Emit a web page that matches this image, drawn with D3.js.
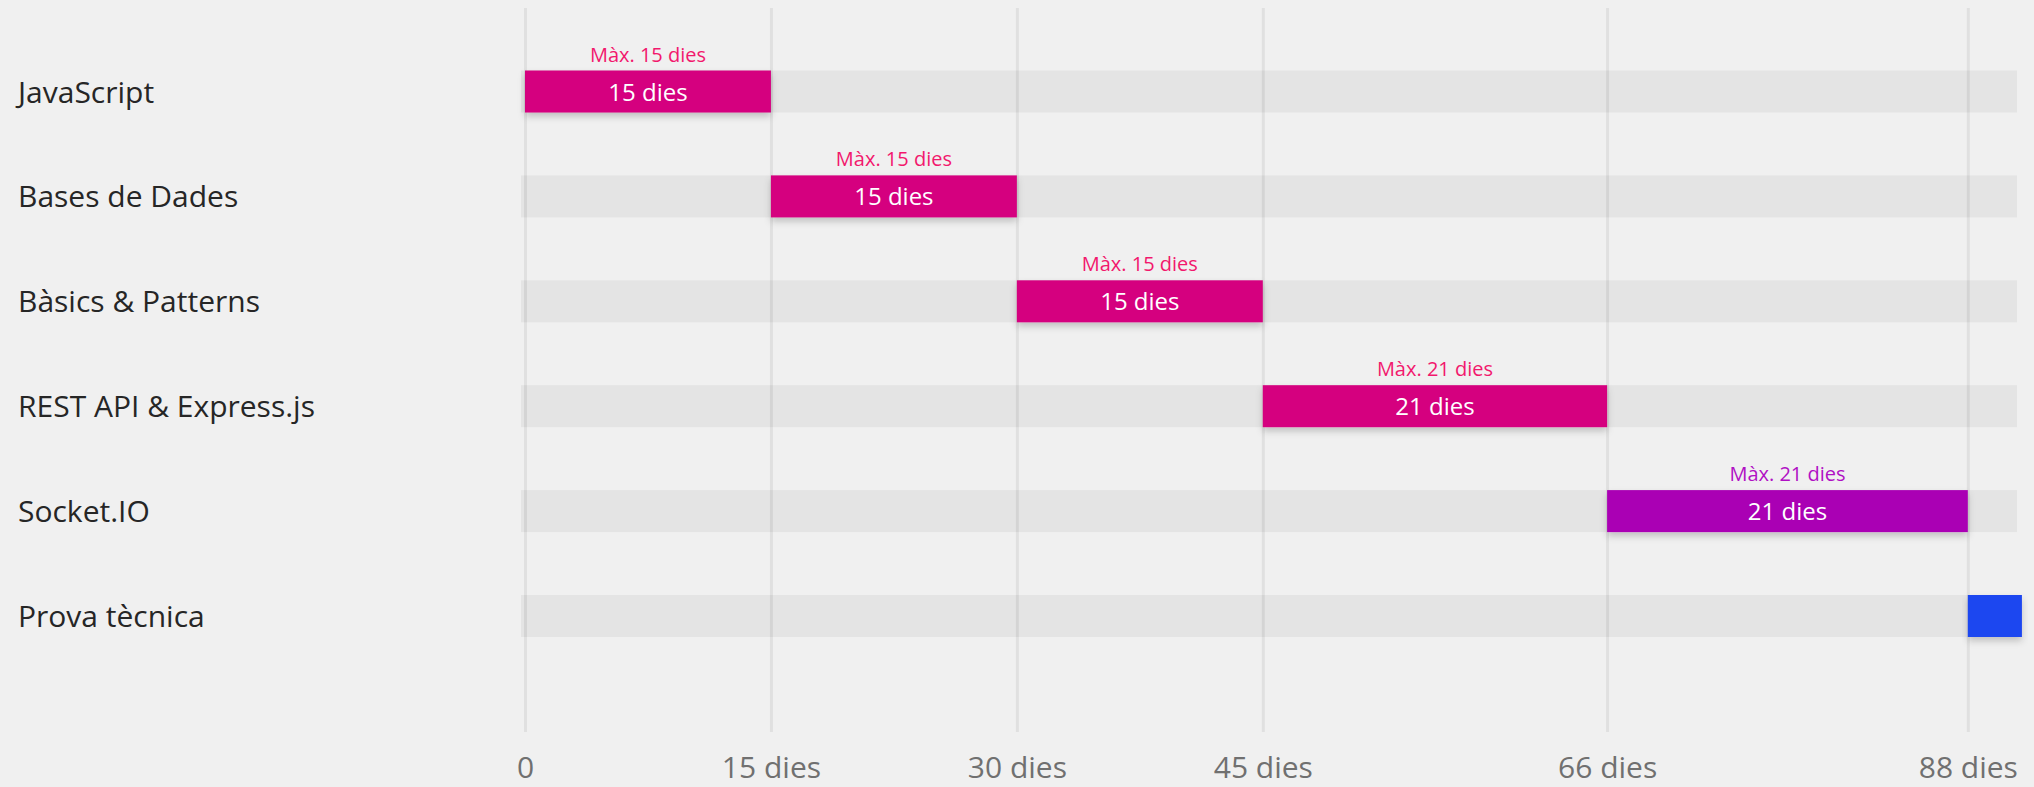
<!DOCTYPE html>
<html>
<head>
<meta charset="utf-8">
<script src="https://cdn.jsdelivr.net/npm/d3@7"></script>
<style>
  html, body { margin: 0; padding: 0; background: #f0f0f0; }
  svg { display: block; }
</style>
</head>
<body>
<div id="chart"></div>
<script>
// ---- data ----
const categories = ["JavaScript", "Bases de Dades", "Bàsics & Patterns", "REST API & Express.js", "Socket.IO", "Prova tècnica"];
const startDays  = [0, 15, 30, 45, 66, 88];
const endDays    = [15, 30, 45, 66, 88, 91.3];
const durationLabels = ["15 dies", "15 dies", "15 dies", "21 dies", "21 dies", ""];
const maxLabels  = ["Màx. 15 dies", "Màx. 15 dies", "Màx. 15 dies", "Màx. 21 dies", "Màx. 21 dies", ""];
const barKinds   = ["pink", "pink", "pink", "pink", "purple", "blue"];
const tickValues = [0, 15, 30, 45, 66, 88];
const tickLabels = ["0", "15 dies", "30 dies", "45 dies", "66 dies", "88 dies"];
const domainMax  = 91;

// ---- styles ----
const W = 2034, H = 787;
const barFill   = { pink: "#d5007f", purple: "#aa00b4", blue: "#1e46f0" };
const maxFill   = { pink: "#f2186d", purple: "#b010c4", blue: "#1e46f0" };
const font = "'Open Sans', 'Noto Sans', sans-serif";

const svg = d3.select("#chart").append("svg")
  .attr("width", W).attr("height", H)
  .style("background", "#f0f0f0");

const defs = svg.append("defs");
const f = defs.append("filter").attr("id", "shadow")
  .attr("x", "-10%").attr("y", "-30%").attr("width", "120%").attr("height", "180%");
f.append("feDropShadow").attr("dx", 0).attr("dy", 4).attr("stdDeviation", 3.5)
  .attr("flood-color", "#000").attr("flood-opacity", 0.2);

const x = d3.scaleLinear().domain([0, domainMax]).range([525, 2017]);
const y = d3.scalePoint().domain(categories).range([91.5, 616]);
const barH = 42;

const rows = categories.map((c, i) => ({
  cat: c, start: startDays[i], end: endDays[i],
  label: durationLabels[i], max: maxLabels[i], kind: barKinds[i]
}));

// background tracks
svg.append("g").selectAll("rect").data(rows).join("rect")
  .attr("x", x(0) - 4)
  .attr("y", d => y(d.cat) - barH / 2)
  .attr("width", x(domainMax) - x(0) + 4)
  .attr("height", barH)
  .attr("fill", "#e4e4e4");

// grid lines via axis
const gridG = svg.append("g").attr("transform", "translate(0,732)")
  .call(d3.axisTop(x).tickValues(tickValues).tickSize(724).tickFormat(""));
gridG.select(".domain").remove();
gridG.selectAll(".tick line")
  .attr("stroke", "rgba(0,0,0,0.065)").attr("stroke-width", 3);

// axis labels
const axisG = svg.append("g").attr("transform", "translate(0,778)")
  .call(d3.axisBottom(x).tickValues(tickValues).tickSize(0)
    .tickFormat((d, i) => tickLabels[i]));
axisG.select(".domain").remove();
axisG.selectAll(".tick text")
  .attr("y", 0).attr("dy", 0)
  .attr("font-family", font).attr("font-size", 30)
  .attr("fill", "#707070");

// bars
svg.append("g").selectAll("rect").data(rows).join("rect")
  .attr("x", d => x(d.start))
  .attr("y", d => y(d.cat) - barH / 2)
  .attr("width", d => x(d.end) - x(d.start))
  .attr("height", barH)
  .attr("fill", d => barFill[d.kind])
  .attr("filter", "url(#shadow)");

// bar labels
svg.append("g").selectAll("text").data(rows.filter(d => d.label)).join("text")
  .attr("x", d => (x(d.start) + x(d.end)) / 2)
  .attr("y", d => y(d.cat) + 9)
  .attr("text-anchor", "middle")
  .attr("font-family", font).attr("font-size", 24)
  .attr("fill", "#ffffff")
  .text(d => d.label);

// max labels
svg.append("g").selectAll("text").data(rows.filter(d => d.max)).join("text")
  .attr("x", d => (x(d.start) + x(d.end)) / 2)
  .attr("y", d => y(d.cat) - barH / 2 - 9)
  .attr("text-anchor", "middle")
  .attr("font-family", font).attr("font-size", 20)
  .attr("fill", d => maxFill[d.kind])
  .text(d => d.max);

// category labels
svg.append("g").selectAll("text").data(rows).join("text")
  .attr("x", 18)
  .attr("y", d => y(d.cat) + 11)
  .attr("font-family", font).attr("font-size", 30)
  .attr("fill", "#262626")
  .text(d => d.cat);
</script>
</body>
</html>
